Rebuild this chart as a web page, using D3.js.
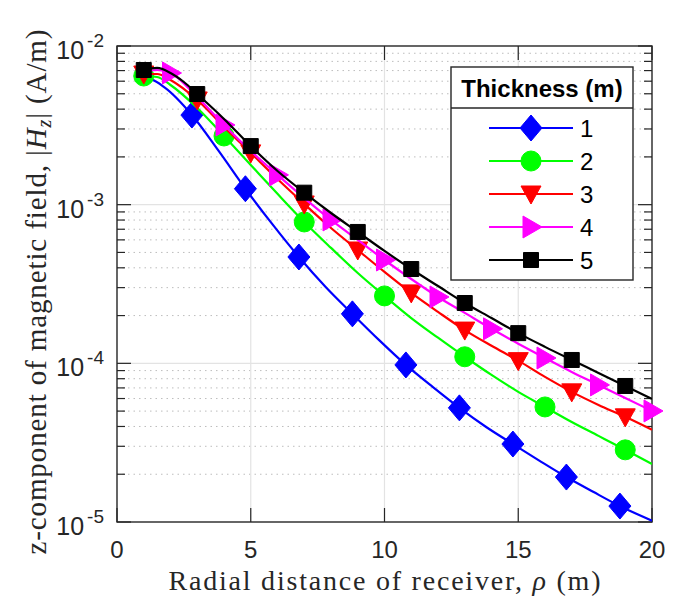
<!DOCTYPE html>
<html>
<head>
<meta charset="utf-8">
<script src="https://cdn.jsdelivr.net/npm/d3@7"></script>
<style>
  body { margin: 0; background: #fff; }
  svg { display: block; }
</style>
</head>
<body>
<div id="chart"></div>
<script>
// values (rho in m, |Hz| in A/m)
const rho1 = [0.8, 1.3, 1.8, 2.8, 3.8, 4.8, 5.8, 6.8, 7.8, 8.8, 9.8, 10.8, 11.8, 12.8, 13.8, 14.8, 15.8, 16.8, 17.8, 18.8, 20];
const hz1 = [6.20e-3, 6.11e-3, 5.44e-3, 3.67e-3, 2.18e-3, 1.26e-3, 7.56e-4, 4.68e-4, 3.03e-4, 2.05e-4, 1.40e-4, 9.77e-5, 7.10e-5, 5.24e-5, 3.97e-5, 3.10e-5, 2.43e-5, 1.92e-5, 1.55e-5, 1.26e-5, 1.02e-5];
const mk1 = [2.8, 4.8, 6.8, 8.8, 10.8, 12.8, 14.8, 16.8, 18.8];

const rhoStd = [0.8, 1, 1.5, 2, 3, 4, 5, 6, 7, 8, 9, 10, 11, 12, 13, 14, 15, 16, 17, 18, 19, 20];
const hz2 = [6.30e-3, 6.47e-3, 6.38e-3, 5.68e-3, 4.07e-3, 2.71e-3, 1.78e-3, 1.17e-3, 7.78e-4, 5.34e-4, 3.71e-4, 2.66e-4, 1.93e-4, 1.45e-4, 1.10e-4, 8.45e-5, 6.61e-5, 5.31e-5, 4.27e-5, 3.49e-5, 2.85e-5, 2.32e-5];
const mk2 = [1, 4, 7, 10, 13, 16, 19];

const hz3 = [6.50e-3, 6.66e-3, 6.66e-3, 6.11e-3, 4.57e-3, 3.09e-3, 2.12e-3, 1.45e-3, 1.01e-3, 7.13e-4, 5.18e-4, 3.77e-4, 2.78e-4, 2.11e-4, 1.62e-4, 1.29e-4, 1.04e-4, 8.21e-5, 6.61e-5, 5.47e-5, 4.60e-5, 3.81e-5];
const mk3 = [1, 3, 5, 7, 9, 11, 13, 15, 17, 19];

const hz4 = [6.70e-3, 6.86e-3, 7.06e-3, 6.76e-3, 4.77e-3, 3.18e-3, 2.18e-3, 1.54e-3, 1.10e-3, 8.01e-4, 5.99e-4, 4.48e-4, 3.40e-4, 2.62e-4, 2.08e-4, 1.65e-4, 1.33e-4, 1.08e-4, 8.83e-5, 7.31e-5, 6.05e-5, 5.01e-5];
const mk4 = [2, 4, 6, 8, 10, 12, 14, 16, 18, 20];

const rho5 = [0.8, 1, 1.5, 2, 2.5, 3, 4, 5, 6, 7, 8, 9, 10, 11, 12, 13, 14, 15, 16, 17, 18, 19, 20];
const hz5 = [6.90e-3, 7.06e-3, 7.27e-3, 6.76e-3, 5.93e-3, 4.98e-3, 3.47e-3, 2.34e-3, 1.63e-3, 1.19e-3, 8.86e-4, 6.73e-4, 5.11e-4, 3.93e-4, 3.07e-4, 2.40e-4, 1.93e-4, 1.55e-4, 1.27e-4, 1.05e-4, 8.70e-5, 7.20e-5, 5.97e-5];
const mk5 = [1, 3, 5, 7, 9, 11, 13, 15, 17, 19];

const thickness = ["1", "2", "3", "4", "5"];
const colors = ["#0000ff", "#00ff00", "#ff0000", "#ff00ff", "#000000"];
const markerTypes = ["diamond", "circle", "triDown", "triRight", "square"];
const xTicks = [0, 5, 10, 15, 20];
const yTicks = [1e-5, 1e-4, 1e-3, 1e-2];
const yTickExp = ["-5", "-4", "-3", "-2"];

const series = [
  { rho: rho1, hz: hz1, mk: mk1 },
  { rho: rhoStd, hz: hz2, mk: mk2 },
  { rho: rhoStd, hz: hz3, mk: mk3 },
  { rho: rhoStd, hz: hz4, mk: mk4 },
  { rho: rho5, hz: hz5, mk: mk5 }
];

const width = 694, height = 599;
const margin = { left: 117, right: 42, top: 46, bottom: 77 };
const plotW = width - margin.left - margin.right;
const plotH = height - margin.top - margin.bottom;

const svg = d3.select("#chart").append("svg")
  .attr("width", width)
  .attr("height", height);

const x = d3.scaleLinear().domain([0, 20]).range([0, plotW]);
const y = d3.scaleLog().domain([1e-5, 1e-2]).range([plotH, 0]);

const g = svg.append("g").attr("transform", `translate(${margin.left},${margin.top})`);

// minor grid (dotted) for y
const minorVals = [];
[1e-5, 1e-4, 1e-3].forEach(dec => { for (let k = 2; k <= 9; k++) minorVals.push(dec * k); });
g.append("g").selectAll("line").data(minorVals).join("line")
  .attr("x1", 0).attr("x2", plotW)
  .attr("y1", d => y(d)).attr("y2", d => y(d))
  .attr("stroke", "#bdbdbd").attr("stroke-width", 1)
  .attr("stroke-dasharray", "1.5,4");

// major grid
g.append("g").selectAll("line").data(xTicks.slice(1, -1)).join("line")
  .attr("x1", d => x(d)).attr("x2", d => x(d))
  .attr("y1", 0).attr("y2", plotH)
  .attr("stroke", "#e3e3e3").attr("stroke-width", 1.2);
g.append("g").selectAll("line").data(yTicks.slice(1, -1)).join("line")
  .attr("x1", 0).attr("x2", plotW)
  .attr("y1", d => y(d)).attr("y2", d => y(d))
  .attr("stroke", "#e3e3e3").attr("stroke-width", 1.2);

// tick marks inside, all four sides
const axisCol = "#262626";
const ticks = g.append("g").attr("stroke", axisCol).attr("stroke-width", 1.2);
xTicks.forEach(v => {
  ticks.append("line").attr("x1", x(v)).attr("x2", x(v)).attr("y1", plotH).attr("y2", plotH - 14);
  ticks.append("line").attr("x1", x(v)).attr("x2", x(v)).attr("y1", 0).attr("y2", 14);
});
yTicks.forEach(v => {
  ticks.append("line").attr("x1", 0).attr("x2", 14).attr("y1", y(v)).attr("y2", y(v));
  ticks.append("line").attr("x1", plotW).attr("x2", plotW - 14).attr("y1", y(v)).attr("y2", y(v));
});
minorVals.forEach(v => {
  ticks.append("line").attr("x1", 0).attr("x2", 8).attr("y1", y(v)).attr("y2", y(v));
  ticks.append("line").attr("x1", plotW).attr("x2", plotW - 8).attr("y1", y(v)).attr("y2", y(v));
});

// box
g.append("rect").attr("width", plotW).attr("height", plotH)
  .attr("fill", "none").attr("stroke", axisCol).attr("stroke-width", 1.4);

// tick labels
const tickFont = "'Liberation Sans', Arial, sans-serif";
g.append("g").selectAll("text").data(xTicks).join("text")
  .attr("x", d => x(d)).attr("y", plotH + 36)
  .attr("text-anchor", "middle")
  .attr("font-family", tickFont).attr("font-size", 24).attr("fill", axisCol)
  .text(d => d);

yTicks.forEach((v, i) => {
  const t = g.append("text")
    .attr("x", -13).attr("y", y(v) + 13)
    .attr("text-anchor", "end")
    .attr("font-family", tickFont).attr("font-size", 25).attr("fill", axisCol);
  t.append("tspan").text("10");
  t.append("tspan").attr("dx", 3).attr("dy", -12).attr("font-size", 19).text(yTickExp[i]);
});

// axis labels
const labFont = "'Liberation Serif', 'Times New Roman', serif";
svg.append("text")
  .attr("x", margin.left + plotW / 2).attr("y", 590)
  .attr("text-anchor", "middle")
  .attr("font-family", labFont).attr("font-size", 28).attr("fill", axisCol)
  .attr("textLength", 432).attr("lengthAdjust", "spacing")
  .html("Radial distance of receiver, <tspan font-style='italic'>ρ</tspan> (m)");

const yl = svg.append("text")
  .attr("transform", `translate(46,${margin.top + plotH / 2 + 8}) rotate(-90)`)
  .attr("text-anchor", "middle")
  .attr("font-family", labFont).attr("font-size", 29).attr("fill", axisCol)
  .attr("textLength", 525).attr("lengthAdjust", "spacing");
yl.append("tspan").text("z-component of magnetic field, |");
yl.append("tspan").attr("font-style", "italic").text("H");
yl.append("tspan").attr("font-style", "italic").attr("font-size", 20).attr("dy", 5).text("z");
yl.append("tspan").attr("dy", -5).text("| (A/m)");

// markers
const markerPath = (type) => {
  switch (type) {
    case "diamond": return "M0,-13L11,0L0,13L-11,0Z";
    case "circle": return d3.symbol(d3.symbolCircle, Math.PI * 100)();
    case "triDown": return "M-10,-8L10,-8L0,10Z";
    case "triRight": return "M-8,-11L-8,11L11,0Z";
    case "square": return "M-7.5,-7.5L7.5,-7.5L7.5,7.5L-7.5,7.5Z";
  }
};

svg.append("defs").append("clipPath").attr("id", "plotclip")
  .append("rect").attr("width", plotW).attr("height", plotH);

const line = d3.line()
  .x(d => x(d[0]))
  .y(d => y(d[1]))
  .curve(d3.curveMonotoneX);

series.forEach((s, i) => {
  const pts = s.rho.map((r, j) => [r, s.hz[j]]);
  const sg = g.append("g");
  sg.append("path")
    .attr("d", line(pts))
    .attr("clip-path", "url(#plotclip)")
    .attr("fill", "none")
    .attr("stroke", colors[i])
    .attr("stroke-width", 2.2);
  const mpts = pts.filter(p => s.mk.includes(p[0]));
  sg.selectAll("path.mk").data(mpts).join("path")
    .attr("class", "mk")
    .attr("transform", d => `translate(${x(d[0])},${y(d[1])})`)
    .attr("d", markerPath(markerTypes[i]))
    .attr("fill", colors[i])
    .attr("stroke", colors[i])
    .attr("stroke-width", 1);
});

// legend
const lg = svg.append("g").attr("transform", "translate(451,67)");
const lgW = 182, lgH = 213, titleH = 41;
lg.append("rect").attr("width", lgW).attr("height", lgH)
  .attr("fill", "#fff").attr("stroke", axisCol).attr("stroke-width", 1.4);
lg.append("line").attr("x1", 0).attr("x2", lgW).attr("y1", titleH).attr("y2", titleH)
  .attr("stroke", axisCol).attr("stroke-width", 1.4);
lg.append("text")
  .attr("x", lgW / 2).attr("y", 30)
  .attr("text-anchor", "middle")
  .attr("font-family", tickFont).attr("font-size", 24).attr("font-weight", "bold")
  .text("Thickness (m)");

thickness.forEach((t, i) => {
  const ry = 61 + i * 33;
  const row = lg.append("g").attr("transform", `translate(0,${ry})`);
  row.append("line").attr("x1", 38).attr("x2", 122).attr("y1", 0).attr("y2", 0)
    .attr("stroke", colors[i]).attr("stroke-width", 2.2);
  row.append("path").attr("transform", "translate(80,0)")
    .attr("d", markerPath(markerTypes[i]))
    .attr("fill", colors[i]).attr("stroke", colors[i]).attr("stroke-width", 1);
  row.append("text").attr("x", 129).attr("y", 9)
    .attr("font-family", tickFont).attr("font-size", 24)
    .text(t);
});
</script>
</body>
</html>
